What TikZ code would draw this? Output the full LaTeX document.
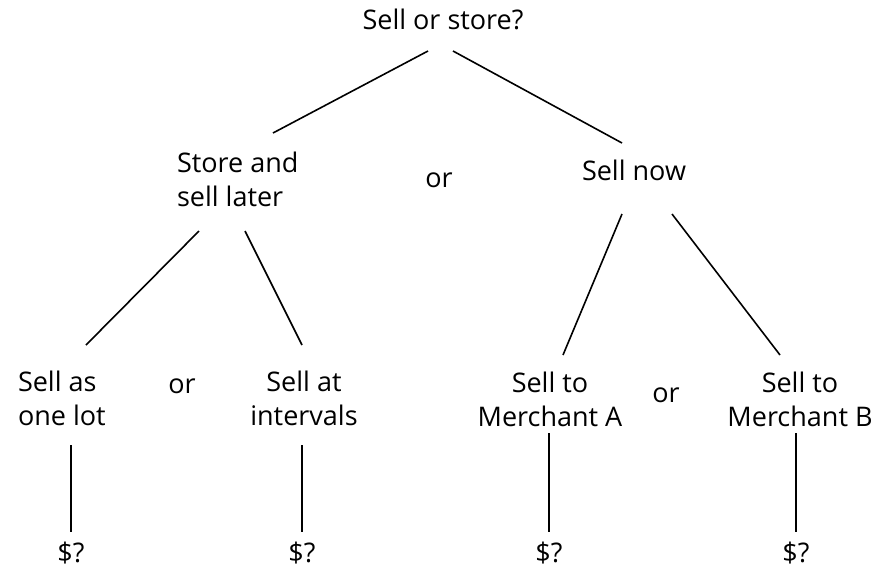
\documentclass[tikz,border=0pt]{standalone}
\usepackage{fontspec}
\setmainfont{Open Sans}
\usetikzlibrary{calc}
\newcommand{\twoC}[2]{\begin{tabular}[t]{@{}c@{}}#1\\#2\end{tabular}}
\newcommand{\twoL}[2]{\begin{tabular}[t]{@{}l@{}}#1\\#2\end{tabular}}
\begin{document}
\begin{tikzpicture}[x=1pt,y=-1pt,
  lbl/.style={inner sep=0pt,outer sep=0pt,font=\fontsize{27}{34}\selectfont,text=black},
  conn/.style={line width=1.6pt,black}]
\useasboundingbox[fill=white] (0,0) rectangle (892,571);
% nodes
\node[lbl,anchor=base] (top) at (443,29) {Sell or store?};
\node[lbl,anchor=base west] (store) at (177,172) {\twoL{Store and}{sell later}};
\node[lbl,anchor=base] (or1) at (439,187) {or};
\node[lbl,anchor=base] (sellnow) at (634,180) {Sell now};
\node[lbl,anchor=base west] (lot) at (18,391) {\twoL{Sell as}{one lot}};
\node[lbl,anchor=base] (or2) at (182,393) {or};
\node[lbl,anchor=base] (intervals) at (304,391) {\twoC{Sell at}{intervals}};
\node[lbl,anchor=base] (merchA) at (550,392) {\twoC{Sell to}{Merchant A}};
\node[lbl,anchor=base] (or3) at (666,402) {or};
\node[lbl,anchor=base] (merchB) at (800,392) {\twoC{Sell to}{Merchant B}};
\node[lbl,anchor=base] (d1) at (71,562) {\$?};
\node[lbl,anchor=base] (d2) at (302,562) {\$?};
\node[lbl,anchor=base] (d3) at (549,562) {\$?};
\node[lbl,anchor=base] (d4) at (796,562) {\$?};
% connectors
\draw[conn] ($(top.base)+(-15,22)$) -- ($(store.base west)+(96,-39)$);
\draw[conn] ($(top.base)+(10,22)$) -- ($(sellnow.base)+(-12,-37)$);
\draw[conn] ($(store.base west)+(22,59)$) -- ($(lot.base west)+(68,-46)$);
\draw[conn] ($(store.base west)+(68,59)$) -- ($(intervals.base)+(-2,-46)$);
\draw[conn] ($(sellnow.base)+(-12,34)$) -- ($(merchA.base)+(13,-37)$);
\draw[conn] ($(sellnow.base)+(38,34)$) -- ($(merchB.base)+(-20,-37)$);
\draw[conn] ($(lot.base west)+(53,54)$) -- ($(d1.base)+(0,-30)$);
\draw[conn] ($(intervals.base)+(-2,54)$) -- ($(d2.base)+(0,-30)$);
\draw[conn] ($(merchA.base)+(-1,41)$) -- ($(d3.base)+(0,-30)$);
\draw[conn] ($(merchB.base)+(-4,41)$) -- ($(d4.base)+(0,-30)$);
\end{tikzpicture}
\end{document}
